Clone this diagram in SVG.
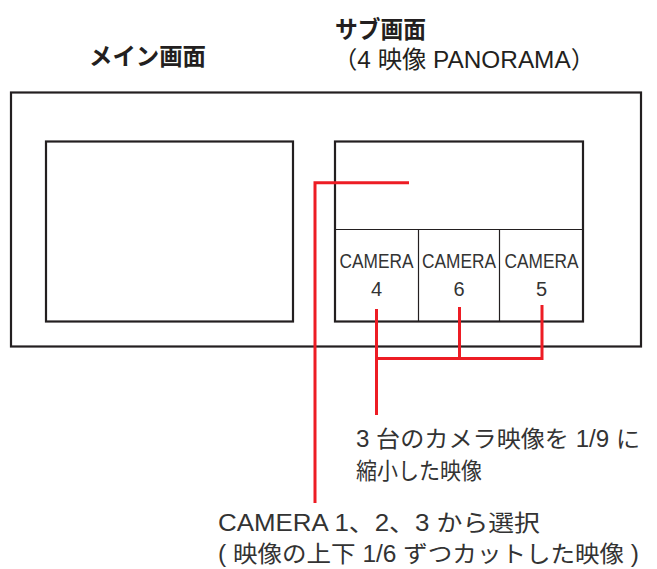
<svg xmlns="http://www.w3.org/2000/svg" width="657" height="569" viewBox="0 0 657 569">
<style>
.frame{fill:none;stroke:#231f20;stroke-width:2.2}
.thin{fill:none;stroke:#231f20;stroke-width:1.2}
.red{fill:none;stroke:#ed1c24;stroke-width:3}
.t{font-family:"Liberation Sans","Noto Sans CJK JP",sans-serif;fill:#333}
.title{font-size:24px;fill:#231f20}
.cam{font-size:20px;text-anchor:middle}
.note{font-size:23px}
</style>
<rect width="657" height="569" fill="#fff"/>
<g id="title-main"><text class="t title" x="89" y="65" textLength="117" lengthAdjust="spacingAndGlyphs" font-weight="bold">メイン画面</text></g>
<g id="title-sub">
<text class="t title" x="335" y="38" textLength="91" lengthAdjust="spacingAndGlyphs" font-weight="bold">サブ画面</text>
<text class="t title" x="333" y="68" textLength="262" lengthAdjust="spacingAndGlyphs">（4 映像 PANORAMA）</text>
</g>
<g id="monitor"><rect class="frame" x="11" y="92.5" width="630" height="254"/></g>
<g id="main-screen"><rect class="frame" x="46" y="141.5" width="247" height="180"/></g>
<g id="sub-screen">
<rect class="frame" x="335" y="141.5" width="248" height="180"/>
<line class="thin" x1="335" y1="229.5" x2="583" y2="229.5"/>
<line class="thin" x1="418.5" y1="229.5" x2="418.5" y2="321.5"/>
<line class="thin" x1="499.5" y1="229.5" x2="499.5" y2="321.5"/>
</g>
<g id="cam4"><text class="t cam" x="376.5" y="268" textLength="74" lengthAdjust="spacingAndGlyphs">CAMERA</text><text class="t cam" x="376.5" y="296">4</text></g>
<g id="cam6"><text class="t cam" x="459" y="268" textLength="74" lengthAdjust="spacingAndGlyphs">CAMERA</text><text class="t cam" x="459" y="296">6</text></g>
<g id="cam5"><text class="t cam" x="541.5" y="268" textLength="74" lengthAdjust="spacingAndGlyphs">CAMERA</text><text class="t cam" x="541.5" y="296">5</text></g>
<g id="connectors">
<path class="red" d="M409,182.7 H315 V503"/>
<path class="red" d="M376.5,309 V358.5 H542 V305"/>
<path class="red" d="M459.5,307 V358.5"/>
<path class="red" d="M376.5,358.5 V415"/>
</g>
<g id="note-small">
<text class="t note" x="356" y="447" textLength="284" lengthAdjust="spacingAndGlyphs">3 台のカメラ映像を 1/9 に</text>
<text class="t note" x="356" y="479" textLength="126" lengthAdjust="spacingAndGlyphs">縮小した映像</text>
</g>
<g id="note-select">
<text class="t note" x="218" y="531" textLength="322" lengthAdjust="spacingAndGlyphs">CAMERA 1、2、3 から選択</text>
<text class="t note" x="218" y="562" textLength="421" lengthAdjust="spacingAndGlyphs">( 映像の上下 1/6 ずつカットした映像 )</text>
</g>
</svg>
